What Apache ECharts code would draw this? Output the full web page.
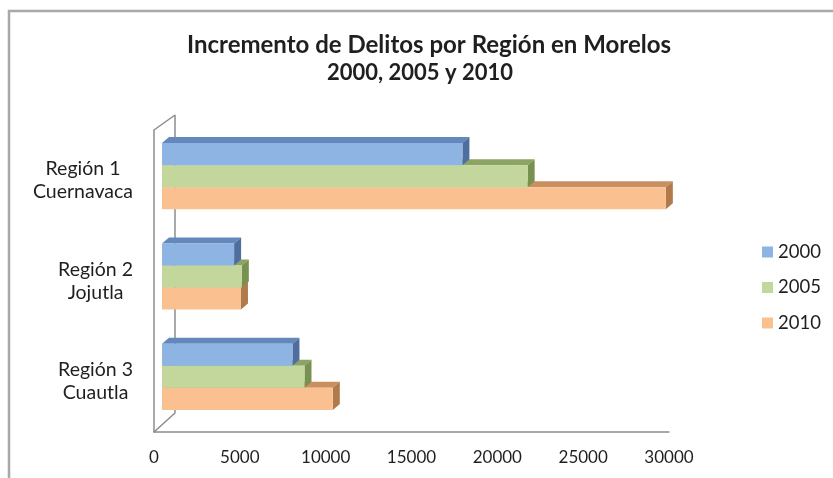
<!DOCTYPE html>
<html>
<head>
<meta charset="utf-8">
<script src="https://cdn.jsdelivr.net/npm/echarts@6/dist/echarts.min.js"></script>
<style>
  html, body { margin: 0; padding: 0; background: #fff; }
  #chart { width: 833px; height: 478px; }
</style>
</head>
<body>
<div id="chart"></div>
<script>
// ---- data ----
const categories = ['Región 1\nCuernavaca', 'Región 2\nJojutla', 'Región 3\nCuautla'];
const years = ['2000', '2005', '2010'];
const values2000 = [17500, 4200, 7600];
const values2005 = [21300, 4650, 8300];
const values2010 = [29350, 4600, 9950];
const xTicks = { min: 0, max: 30000, interval: 5000 };
const titleLine1 = 'Incremento de Delitos por Región en Morelos';
const titleLine2 = '2000, 2005 y 2010';

// ---- styling / layout ----
const FONT = 'Lato, "Open Sans", sans-serif';
const faces = [
  { front: '#8EB4E3', top: '#6488BD', side: '#4E6E9E' },
  { front: '#C3D69B', top: '#8BA463', side: '#789050' },
  { front: '#FAC090', top: '#C98F5F', side: '#B07A4C' }
];
const DX = 7, DY = -6;
const gBars  = { left: 162, top: 126, width: 515, height: 301 };
const gFront = { left: 154, top: 130, width: 515, height: 302 };
const gBack  = { left: 175, top: 115, width: 515, height: 298 };
const LINE = '#8C8C8C';
const TXT = '#1f1f1f';

const seriesValues = [values2000, values2005, values2010];

function makeRender(s) {
  return function (params, api) {
    const cat = api.value(0);
    const val = api.value(1);
    const p0 = api.coord([0, cat]);
    const p1 = api.coord([val, cat]);
    const band = api.size([0, 1])[1];
    const h = band * 0.22;
    const top = p0[1] - 1.5 * h + s * h;
    const x0 = p0[0], x1 = p1[0];
    const f = faces[s];
    return {
      type: 'group',
      children: [
        { type: 'polygon', shape: { points: [[x0, top], [x0 + DX, top + DY], [x1 + DX, top + DY], [x1, top]] },
          style: { fill: f.top } },
        { type: 'polygon', shape: { points: [[x1, top], [x1 + DX, top + DY], [x1 + DX, top + h + DY], [x1, top + h]] },
          style: { fill: f.side } },
        { type: 'rect', shape: { x: x0, y: top, width: x1 - x0, height: h },
          style: { fill: f.front } }
      ]
    };
  };
}

const series = years.map((y, s) => ({
  name: y,
  type: 'custom',
  xAxisIndex: 0,
  yAxisIndex: 0,
  z: 10 - s,
  itemStyle: { color: faces[s].front },
  renderItem: makeRender(s),
  encode: { x: 1, y: 0 },
  data: categories.map((c, i) => [i, seriesValues[s][i]])
}));

const chart = echarts.init(document.getElementById('chart'), null, { renderer: 'canvas' });
chart.setOption({
  animation: false,
  backgroundColor: '#fff',
  title: [
    { text: titleLine1, left: 429, top: 31, padding: 0, textAlign: 'center',
      textStyle: { fontFamily: FONT, fontWeight: 'bold', fontSize: 24, lineHeight: 28, color: TXT } },
    { text: titleLine2, left: 420, top: 59, padding: 0, textAlign: 'center',
      textStyle: { fontFamily: FONT, fontWeight: 'bold', fontSize: 22, lineHeight: 28, color: TXT } }
  ],
  legend: {
    data: years,
    orient: 'vertical',
    left: 762, top: 242, padding: 0,
    itemWidth: 11, itemHeight: 11, itemGap: 15.5,
    icon: 'rect',
    textStyle: { fontFamily: FONT, fontSize: 18.5, lineHeight: 20, color: TXT }
  },
  grid: [
    Object.assign({}, gBars),
    Object.assign({}, gFront),
    Object.assign({}, gBack)
  ],
  xAxis: [
    { gridIndex: 0, type: 'value', min: xTicks.min, max: xTicks.max, interval: xTicks.interval, show: false },
    { gridIndex: 1, type: 'value', min: xTicks.min, max: xTicks.max, interval: xTicks.interval,
      axisLine: { show: true, lineStyle: { color: LINE, width: 1.5 } },
      axisTick: { show: false }, splitLine: { show: false },
      axisLabel: { margin: 17, fontFamily: FONT, fontSize: 17, color: TXT, formatter: v => String(v) } },
    { gridIndex: 2, type: 'value', min: xTicks.min, max: xTicks.max, show: false }
  ],
  yAxis: [
    { gridIndex: 0, type: 'category', data: categories, inverse: true, show: false },
    { gridIndex: 1, type: 'category', data: categories, inverse: true,
      axisLine: { show: true, lineStyle: { color: LINE, width: 1.5 } },
      axisTick: { show: false }, splitLine: { show: false },
      axisLabel: {
        margin: 21,
        formatter: v => v.split('\n').map(t => '{c|' + t + '}').join('\n'),
        rich: { c: { align: 'center', fontFamily: FONT, fontSize: 19.5, lineHeight: 23, color: TXT } }
      } },
    { gridIndex: 2, type: 'category', data: categories, inverse: true, show: false }
  ],
  graphic: [
    { type: 'rect', shape: { x: 9, y: 11, width: 900, height: 600 },
      style: { fill: null, stroke: '#A9A9A9', lineWidth: 2.5 }, z: 0 },
    { type: 'line', shape: { x1: gBack.left, y1: gBack.top, x2: gBack.left, y2: gBack.top + gBack.height },
      style: { stroke: LINE, lineWidth: 1.5 }, z: 0 },
    { type: 'line', shape: { x1: gFront.left, y1: gFront.top, x2: gBack.left, y2: gBack.top },
      style: { stroke: LINE, lineWidth: 1.5 }, z: 0 },
    { type: 'line', shape: { x1: gFront.left, y1: gFront.top + gFront.height, x2: gBack.left, y2: gBack.top + gBack.height },
      style: { stroke: LINE, lineWidth: 1.5 }, z: 0 }
  ],
  series: series
});
</script>
</body>
</html>
